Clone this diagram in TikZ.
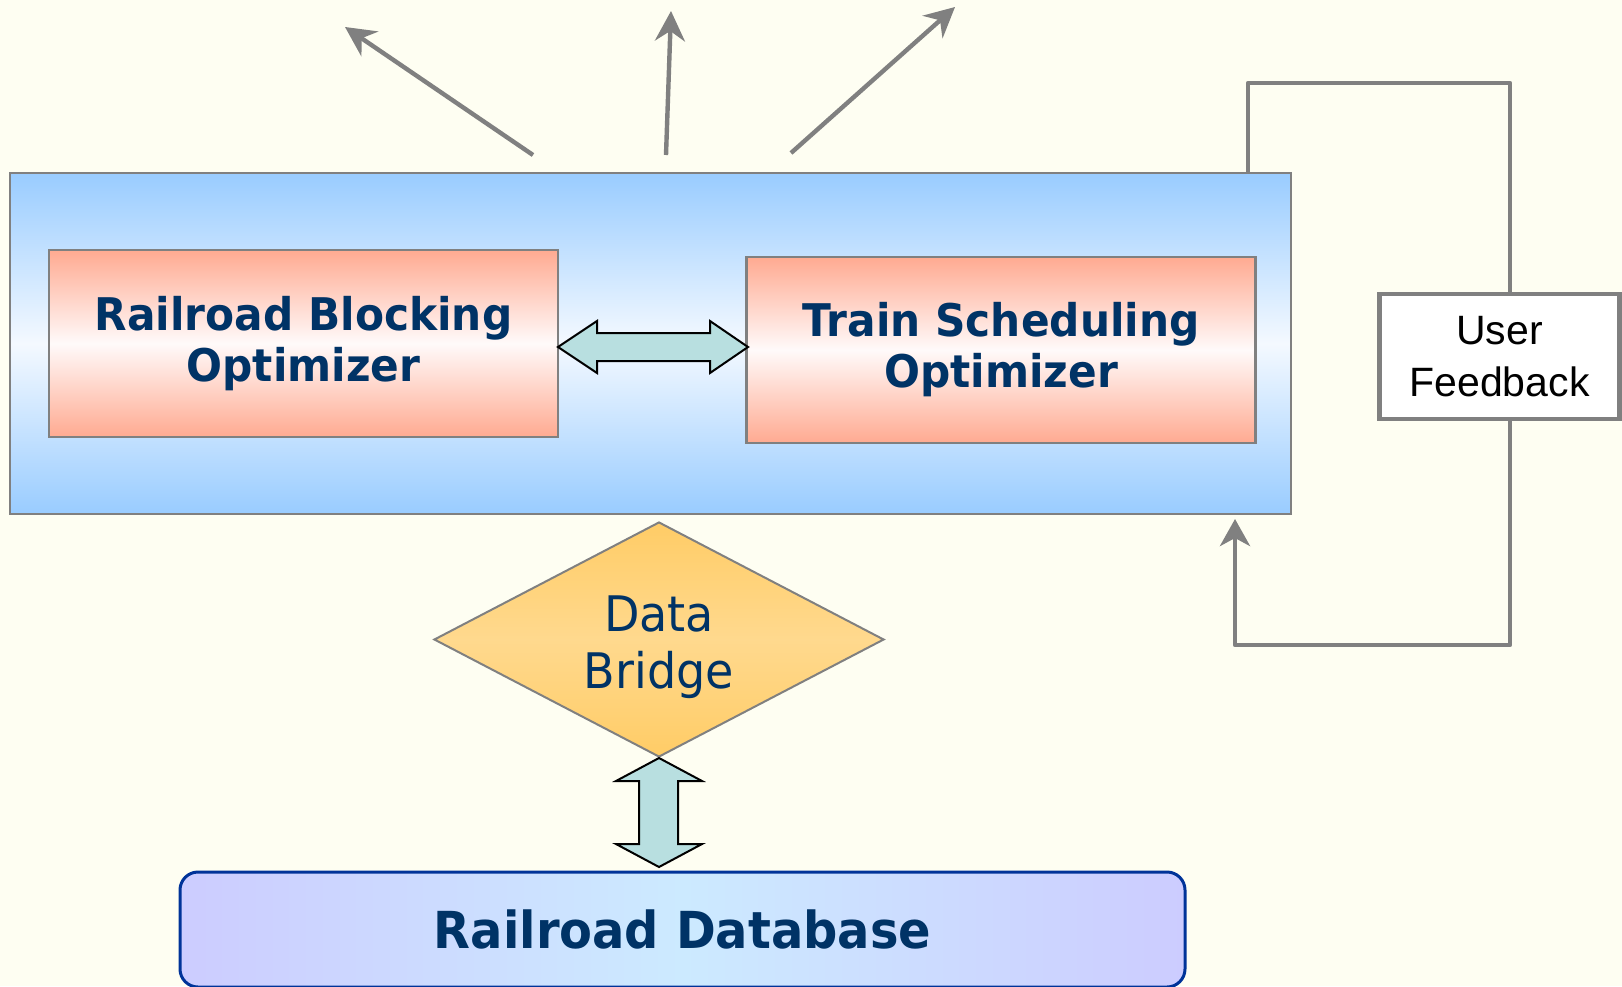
\documentclass[tikz,border=0pt]{standalone}
\usepackage{fontspec}
\setmainfont{DejaVu Sans}
\newfontfamily\labelfont[FakeStretch=0.94]{DejaVu Sans}
\newfontfamily\arialfont{Liberation Sans}
\usetikzlibrary{shapes.geometric,arrows.meta,calc}

\definecolor{paper}{RGB}{254,254,242}
\definecolor{navy}{RGB}{0,51,102}
\definecolor{edgegray}{RGB}{128,128,128}
\definecolor{skyblue}{RGB}{153,204,255}
\definecolor{skywhite}{RGB}{244,249,255}
\definecolor{salmon}{RGB}{255,170,145}
\definecolor{salmonwhite}{RGB}{255,250,250}
\definecolor{amber}{RGB}{255,204,102}
\definecolor{amberlight}{RGB}{255,217,142}
\definecolor{lavender}{RGB}{204,204,255}
\definecolor{iceblue}{RGB}{204,234,255}
\definecolor{dbborder}{RGB}{0,51,153}
\definecolor{tealfill}{RGB}{184,223,224}

\begin{document}
\begin{tikzpicture}[x=0.5pt,y=-0.5pt,
  outerbox/.style={draw=edgegray, line width=1.25pt,
    top color=skyblue, bottom color=skyblue, middle color=skywhite,
    minimum width=640.5pt, minimum height=170.5pt, inner sep=0pt},
  optbox/.style={draw=edgegray, line width=1.25pt,
    top color=salmon, bottom color=salmon, middle color=salmonwhite,
    minimum width=254.5pt, minimum height=93.5pt, inner sep=0pt,
    align=center, text=navy,
    font=\labelfont\bfseries\fontsize{22.5}{25.5}\selectfont},
  feedbox/.style={draw=edgegray, line width=2.35pt, fill=white,
    minimum width=120pt, minimum height=62.5pt, inner sep=0pt,
    align=center, text=black,
    font=\arialfont\fontsize{20.5}{26}\selectfont},
  bridgebox/.style={diamond, draw=edgegray, line width=1pt,
    top color=amber, bottom color=amber, middle color=amberlight,
    minimum width=225pt, minimum height=117.5pt, inner sep=0pt},
  bridgetext/.style={align=center, text=navy, inner sep=0pt,
    font=\labelfont\fontsize{24.5}{28.5}\selectfont},
  dbbox/.style={draw=dbborder, line width=1.5pt, rounded corners=9pt,
    left color=lavender, right color=lavender, middle color=iceblue,
    minimum width=502.5pt, minimum height=57.5pt, inner sep=0pt,
    text=navy, font=\labelfont\bfseries\fontsize{25.5}{28}\selectfont},
  dblarrow/.style={draw=black, line width=1pt, fill=tealfill, line join=miter},
  outarrow/.style={draw=edgegray, line width=2.2pt,
    -{Stealth[length=15pt, width=15pt, inset=5pt]}},
  loopline/.style={draw=edgegray, line width=2.35pt, line join=round},
  looparrow/.style={loopline,
    -{Stealth[length=13.5pt, width=15pt, inset=4pt]}}
]
% page and background
\fill[paper] (0,0) rectangle (1622,986);
\useasboundingbox (0,0) rectangle (1622,986);
\clip (0,0) rectangle (1622,986);

% optimizer container and the two optimizers
\node[outerbox] (core) at (650.5,343.5) {};
\node[optbox] (block) at (303.5,343.5) {Railroad Blocking\\Optimizer};
\node[optbox, minimum height=93pt] (sched) at (1001,350) {Train Scheduling\\Optimizer};

% two-way exchange between the optimizers
\draw[dblarrow] (558,347) -- (597,321) -- (597,333) -- (710,333) -- (710,321)
  -- (748,347) -- (710,373) -- (710,361) -- (597,361) -- (597,373) -- cycle;

% data bridge
\node[bridgebox] (bridge) at (659,639.5) {};
\node[bridgetext, yshift=-4pt] (bridgelabel) at (bridge.center) {Data\\Bridge};

% database
\node[dbbox] (db) at (682.5,929.5) {Railroad Database};

% two-way exchange between bridge and database
\draw[dblarrow] (659,758) -- (702,781) -- (678,781) -- (678,844) -- (702,844)
  -- (659,867) -- (616,844) -- (639,844) -- (639,781) -- (616,781) -- cycle;

% user feedback
\node[feedbox] (fb) at (1499.5,356.5) {User\\Feedback};

% outputs leaving the optimizers
\coordinate (o1s) at (533,155);  \coordinate (o1e) at (345,27);
\coordinate (o2s) at (666,155);  \coordinate (o2e) at (671,11);
\coordinate (o3s) at (791,153);  \coordinate (o3e) at (955,7);
\draw[outarrow] (o1s) -- (o1e);
\draw[outarrow] (o2s) -- (o2e);
\draw[outarrow] (o3s) -- (o3e);

% feedback loop
\coordinate (fbx) at (1510,0);
\coordinate (loopout) at (1248,173);
\coordinate (looptop) at (1248,83);
\coordinate (loopbot) at (1235,645);
\coordinate (loopin) at (1235,519);
\draw[loopline] (loopout) -- (looptop) -| (fb.north -| fbx);
\draw[looparrow] (fb.south -| fbx) |- (loopbot) -- (loopin);
\end{tikzpicture}
\end{document}
